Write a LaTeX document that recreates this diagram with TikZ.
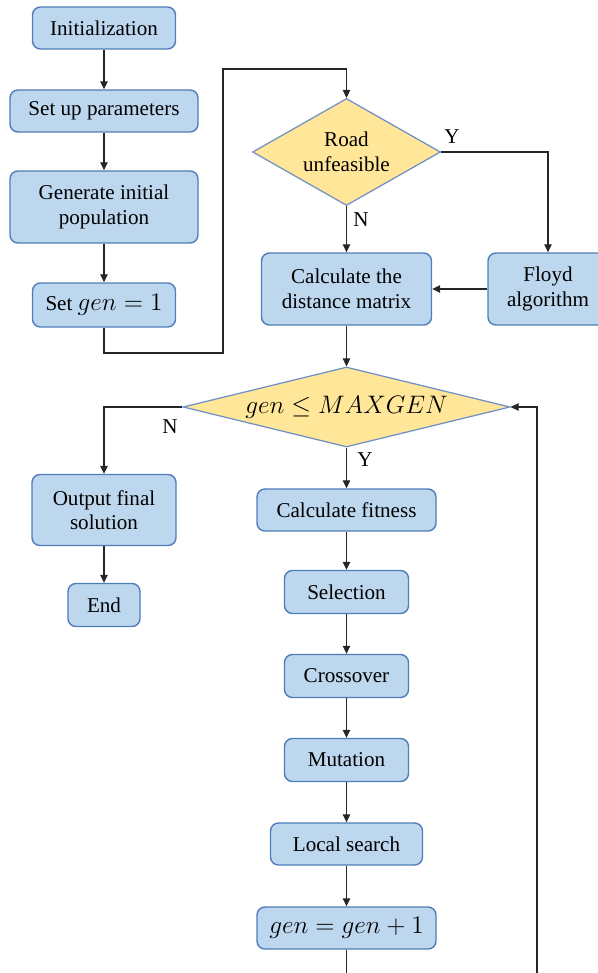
\documentclass[tikz,border=0pt]{standalone}
\usepackage{fontspec}
\setmainfont{Liberation Serif}
\usetikzlibrary{shapes.geometric,arrows.meta}

\definecolor{boxfill}{HTML}{BDD7EE}
\definecolor{boxline}{HTML}{4F7DB8}
\definecolor{askfill}{HTML}{FFE699}
\definecolor{askline}{HTML}{6F8FC6}
\definecolor{inkline}{HTML}{262626}

\begin{document}
\begin{tikzpicture}[
    font=\fontsize{12}{14}\selectfont,
    stepbox/.style={draw=boxline, fill=boxfill, line width=0.8pt, rounded corners=4.5pt,
        align=center, inner sep=0pt, text=black},
    askbox/.style={draw=askline, fill=askfill, line width=0.7pt, diamond, inner sep=0pt,
        align=center, text=black},
    mathtext/.style={font=\fontsize{13.5}{16}\selectfont},
    flow/.style={-{Triangle[length=1.6mm, width=1.5mm]}, draw=inkline, line width=0.6pt},
    plain/.style={draw=inkline, line width=0.6pt},
    tag/.style={text=black}
]
    \useasboundingbox (0, 0) rectangle (11.94, -19.46);

    % Left column
    \node [stepbox, minimum width=2.86cm, minimum height=0.84cm] (init) at (2.08, -0.56) {Initialization};
    \node [stepbox, minimum width=3.76cm, minimum height=0.84cm] (setup) at (2.08, -2.22) {Set up parameters};
    \node [stepbox, minimum width=3.76cm, minimum height=1.44cm] (initpop) at (2.08, -4.14) {Generate initial\\population};
    \node [stepbox, minimum width=2.86cm, minimum height=0.88cm] (setgen) at (2.08, -6.10) {Set {\fontsize{13.5}{16}\selectfont$gen = 1$}};

    % Road check
    \node [askbox, aspect=1.76, minimum width=3.76cm, minimum height=2.14cm] (road) at (6.93, -3.04) {Road\\unfeasible};
    \node [stepbox, minimum width=3.40cm, minimum height=1.44cm] (dist) at (6.93, -5.78) {Calculate the\\distance matrix};
    \node [stepbox, minimum width=2.40cm, minimum height=1.44cm] (floyd) at (10.96, -5.78) {Floyd\\algorithm};

    % Main loop
    \node [askbox, aspect=4.09, minimum width=6.54cm, minimum height=1.60cm, font=\fontsize{15}{17}\selectfont] (gencheck) at (6.93, -8.14) {$gen \le MAXGEN$};
    \node [stepbox, minimum width=2.88cm, minimum height=1.42cm] (output) at (2.08, -10.20) {Output final\\solution};
    \node [stepbox, minimum width=1.44cm, minimum height=0.86cm] (finish) at (2.08, -12.10) {End};
    \node [stepbox, minimum width=3.58cm, minimum height=0.84cm] (fitness) at (6.93, -10.20) {Calculate fitness};
    \node [stepbox, minimum width=2.48cm, minimum height=0.86cm] (select) at (6.93, -11.84) {Selection};
    \node [stepbox, minimum width=2.48cm, minimum height=0.86cm] (cross) at (6.93, -13.52) {Crossover};
    \node [stepbox, minimum width=2.48cm, minimum height=0.86cm] (mutate) at (6.93, -15.20) {Mutation};
    \node [stepbox, minimum width=3.04cm, minimum height=0.84cm] (local) at (6.93, -16.88) {Local search};
    \node [stepbox, mathtext, minimum width=3.58cm, minimum height=0.84cm] (genplus) at (6.93, -18.56) {$gen = gen + 1$};

    % Connectors
    \coordinate (jogbot) at (4.46, -7.06);
    \coordinate (jogtop) at (4.46, -1.38);
    \coordinate (loopend) at (6.93, -19.46);
    \coordinate (loopstart) at (10.74, -19.46);

    \draw [flow] (init) -- (setup);
    \draw [flow] (setup) -- (initpop);
    \draw [flow] (initpop) -- (setgen);
    \draw [flow] (setgen.south) |- (jogbot) -- (jogtop) -| (road.north);
    \draw [flow] (road.east) -| (floyd.north);
    \draw [flow] (road.south) -- (dist.north);
    \draw [flow] (floyd.west) -- (dist.east);
    \draw [flow] (dist.south) -- (gencheck.north);
    \draw [flow] (gencheck.west) -| (output.north);
    \draw [flow] (output) -- (finish);
    \draw [flow] (gencheck.south) -- (fitness.north);
    \draw [flow] (fitness) -- (select);
    \draw [flow] (select) -- (cross);
    \draw [flow] (cross) -- (mutate);
    \draw [flow] (mutate) -- (local);
    \draw [flow] (local) -- (genplus);
    \draw [plain] (genplus.south) -- (loopend);
    \draw [flow] (loopstart) |- (gencheck.east);

    \node [tag] (roadyes) at (9.04, -2.74) {Y};
    \node [tag] (roadno) at (7.22, -4.40) {N};
    \node [tag] (genno) at (3.40, -8.54) {N};
    \node [tag] (genyes) at (7.30, -9.20) {Y};

\end{tikzpicture}
\end{document}
